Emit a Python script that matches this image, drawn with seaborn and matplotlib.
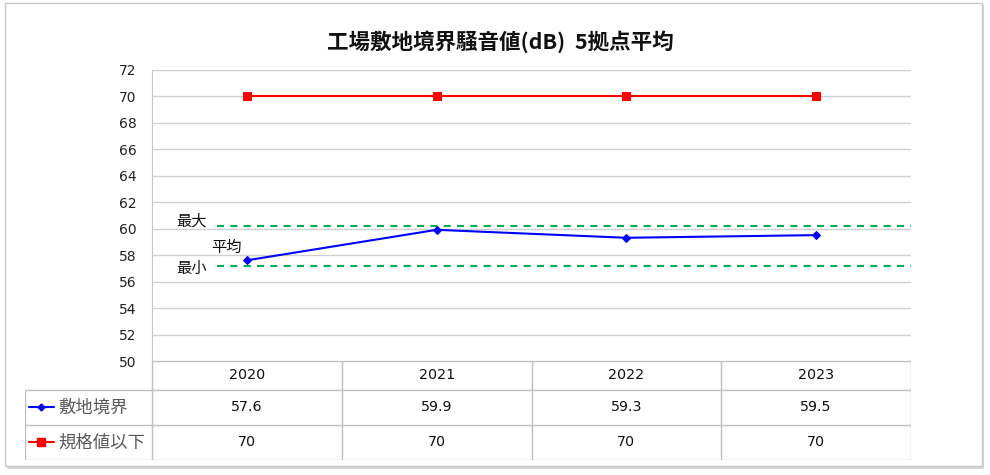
import matplotlib
matplotlib.use("Agg")
import matplotlib.pyplot as plt
import seaborn as sns
import pandas as pd
from matplotlib.patches import Rectangle

sns.set_style("white")
plt.rcParams['font.family'] = ['Noto Sans CJK JP', 'DejaVu Sans']

# ---- data ----
years = ["2020", "2021", "2022", "2023"]
site_boundary = [57.6, 59.9, 59.3, 59.5]
standard_limit = [70, 70, 70, 70]
series_names = ["敷地境界", "規格値以下"]
max_level = 60.2
min_level = 57.2
title = "工場敷地境界騒音値(dB)  5拠点平均"
yticks = list(range(50, 73, 2))

W, H = 990, 475
fig = plt.figure(figsize=(W / 100, H / 100), dpi=100)
fig.patch.set_facecolor("white")

def fx(px):
    return px / W

def fy(py):
    return 1 - py / H

# outer chart frame with shadow
fig.patches.append(Rectangle((fx(7), fy(469)), fx(977), fy(5) - fy(469),
                             transform=fig.transFigure, facecolor="#d8d8d8", edgecolor="none", zorder=-3))
fig.patches.append(Rectangle((fx(5), fy(466)), fx(977), fy(3) - fy(466),
                             transform=fig.transFigure, facecolor="white", edgecolor="#c8c8c8", lw=1, zorder=-2))

# main axes
L, R, T, B = 152, 911, 69.5, 361
ax = fig.add_axes([fx(L), fy(B), fx(R - L), fy(T) - fy(B)])
ax.set_facecolor("none")

x = list(range(len(years)))
df = pd.DataFrame({"x": x * 2,
                   "value": site_boundary + standard_limit,
                   "series": [series_names[0]] * 4 + [series_names[1]] * 4})

sns.lineplot(data=df[df.series == series_names[1]], x="x", y="value", ax=ax,
             color="#ff0000", lw=1.5, marker="s", markersize=5.8, markeredgecolor="#ff0000",
             legend=False, zorder=4)
sns.lineplot(data=df[df.series == series_names[0]], x="x", y="value", ax=ax,
             color="#0000ff", lw=1.5, marker="D", markersize=4, markeredgecolor="#0000ff",
             legend=False, zorder=4)

ax.hlines([max_level, min_level], -0.16, len(years) - 0.5, color="#00b050", lw=1.5,
          linestyles=[(0, (3.4, 3.0))], zorder=3)

ax.text(-0.29, 60.55, "最大", ha="center", va="center", fontsize=11, color="#111111")
ax.text(-0.11, 58.6, "平均", ha="center", va="center", fontsize=11, color="#111111")
ax.text(-0.29, 57.0, "最小", ha="center", va="center", fontsize=11, color="#111111")

ax.set_xlim(-0.5, len(years) - 0.5)
ax.set_ylim(50, 72)
ax.set_yticks(yticks)
ax.set_yticklabels([str(v) for v in yticks], fontsize=10, color="#222222", family="DejaVu Sans")
ax.set_xticks([])
ax.set_xlabel("")
ax.set_ylabel("")
ax.tick_params(axis="y", length=0, pad=11)
ax.grid(axis="y", color="#d0d0d0", lw=1)
for s in ["top", "right", "bottom"]:
    ax.spines[s].set_visible(False)
ax.spines["left"].set_color("#c8c8c8")
ax.set_axisbelow(True)

fig.text(fx(500), fy(42), title, ha="center", va="center", fontsize=15.5,
         fontweight="bold", color="#111111")

# data table
TL = 25
unit = (R - L) / len(years)
left_idx = -0.5 - (L - TL) / unit
tax = fig.add_axes([fx(TL), fy(460), fx(R - TL), fy(361) - fy(460)])
tax.set_facecolor("none")
tax.set_xlim(left_idx, len(years) - 0.5)
tax.set_ylim(460, 361)
tax.axis("off")
rows = [361, 390, 425, 460]
lc = "#bfbfbf"
tax.plot([-0.5, len(years) - 0.5], [rows[0]] * 2, color=lc, lw=1)
for r in rows[1:]:
    tax.plot([left_idx, len(years) - 0.5], [r] * 2, color=lc, lw=1)
tax.plot([left_idx, left_idx], [rows[1], rows[3]], color=lc, lw=1)
for i in range(len(years) + 1):
    tax.plot([i - 0.5] * 2, [rows[0], rows[3]], color=lc, lw=1)

for i, yr in enumerate(years):
    tax.text(i, (rows[0] + rows[1]) / 2, yr, ha="center", va="center",
             fontsize=10.3, color="#111111", family="DejaVu Sans")
    tax.text(i, (rows[1] + rows[2]) / 2, f"{site_boundary[i]:g}", ha="center", va="center",
             fontsize=10.3, color="#111111", family="DejaVu Sans")
    tax.text(i, (rows[2] + rows[3]) / 2, f"{standard_limit[i]:g}", ha="center", va="center",
             fontsize=10.3, color="#111111", family="DejaVu Sans")

def px2idx(px):
    return left_idx + (px - TL) / unit

styles = [("#0000ff", "D", 3.5), ("#ff0000", "s", 5.5)]
for k, (name, (c, m, ms)) in enumerate(zip(series_names, styles)):
    yc = (rows[k + 1] + rows[k + 2]) / 2
    tax.plot([px2idx(29), px2idx(54)], [yc, yc], color=c, lw=1.5)
    tax.plot([px2idx(41.5)], [yc], marker=m, color=c, markersize=ms, markeredgecolor=c)
    tax.text(px2idx(58), yc, name, ha="left", va="center", fontsize=12.5, color="#595959")

fig.savefig("out.png", dpi=100)
